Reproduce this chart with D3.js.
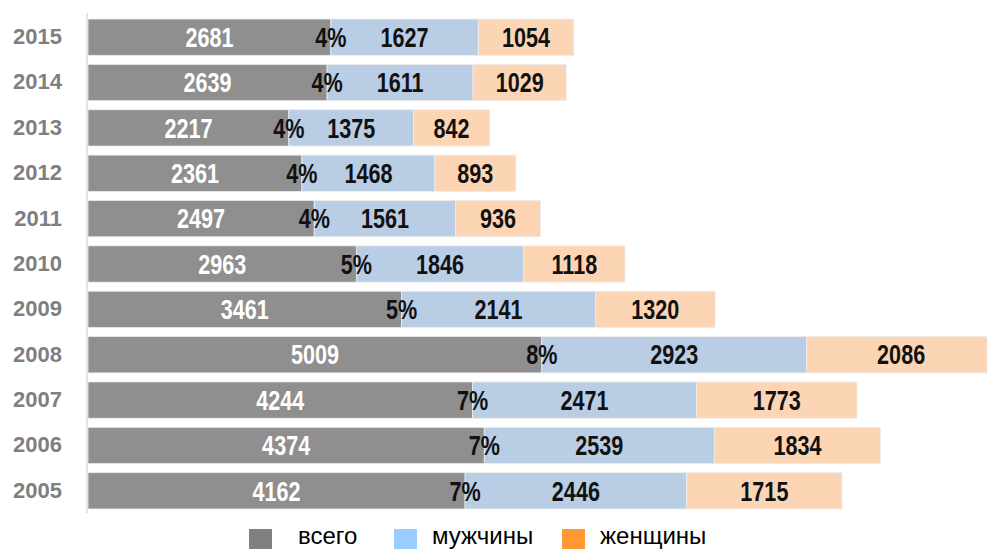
<!DOCTYPE html>
<html>
<head>
<meta charset="utf-8">
<script src="https://cdn.jsdelivr.net/npm/d3@7"></script>
<style>
  html, body { margin: 0; padding: 0; background: #fff; overflow: hidden; }
  svg { display: block; }
  .val { font-family: "Liberation Sans", Arial, sans-serif; font-weight: bold; font-size: 27px; }
  .year { font-family: "Liberation Sans", Arial, sans-serif; font-weight: bold; font-size: 22px; fill: #7f7f7f; }
  .legend { font-family: "Liberation Sans", Arial, sans-serif; font-size: 24px; fill: #000; }
</style>
</head>
<body>
<div id="chart"></div>
<script>
// data, top row first
const years = ['2015', '2014', '2013', '2012', '2011', '2010', '2009', '2008', '2007', '2006', '2005'];
const total = [2681, 2639, 2217, 2361, 2497, 2963, 3461, 5009, 4244, 4374, 4162];
const men = [1627, 1611, 1375, 1468, 1561, 1846, 2141, 2923, 2471, 2539, 2446];
const women = [1054, 1029, 842, 893, 936, 1118, 1320, 2086, 1773, 1834, 1715];
const share = [4, 4, 4, 4, 4, 5, 5, 8, 7, 7, 7];
const seriesNames = ['всего', 'мужчины', 'женщины'];

const width = 987, height = 549;
const barColors = ['#8f8f8f', '#b9cde5', '#fcd5b5'];
const legendColors = ['#808080', '#99ccff', '#ff9933'];

const svg = d3.select('#chart').append('svg')
    .attr('width', width)
    .attr('height', height);

const x = d3.scaleLinear().domain([0, 10000]).range([88, 994]);
const y = d3.scaleBand().domain(years).range([14.5, 513.5])
    .paddingInner(0.2).paddingOuter(0.1);

const rows = years.map((yr, i) => ({
    year: yr,
    segs: [
        { s: 0, x0: 0, x1: total[i], v: total[i] },
        { s: 1, x0: total[i], x1: total[i] + men[i], v: men[i] },
        { s: 2, x0: total[i] + men[i], x1: total[i] + men[i] + women[i], v: women[i] }
    ],
    pct: share[i],
    totalEnd: total[i]
}));

// axis line
svg.append('line')
    .attr('x1', 87).attr('x2', 87)
    .attr('y1', 13).attr('y2', 513)
    .style('stroke', '#d9d9d9')
    .style('stroke-width', 1.5);

const row = svg.selectAll('g.row')
    .data(rows)
    .enter()
    .append('g')
    .attr('class', 'row');

row.selectAll('rect')
    .data(d => d.segs.map(s => Object.assign({ year: d.year }, s)))
    .enter()
    .append('rect')
    .attr('x', d => x(d.x0))
    .attr('y', d => y(d.year))
    .attr('width', d => x(d.x1) - x(d.x0))
    .attr('height', y.bandwidth())
    .style('fill', d => barColors[d.s])
    .style('stroke', '#ededed')
    .style('stroke-width', 0.8);

// condensed look: squeeze the labels horizontally
const squeeze = (cx, cy) => `translate(${cx},${cy}) scale(0.8,1)`;

row.selectAll('text.val')
    .data(d => d.segs.map(s => Object.assign({ year: d.year }, s)))
    .enter()
    .append('text')
    .attr('class', 'val')
    .attr('transform', d => squeeze((x(d.x0) + x(d.x1)) / 2, y(d.year) + y.bandwidth() / 2))
    .attr('dy', '0.36em')
    .attr('text-anchor', 'middle')
    .style('fill', d => d.s === 0 ? '#fff' : '#111')
    .text(d => d.v);

row.append('text')
    .attr('class', 'val')
    .attr('transform', d => squeeze(x(d.totalEnd), y(d.year) + y.bandwidth() / 2))
    .attr('dy', '0.36em')
    .attr('text-anchor', 'middle')
    .style('fill', '#111')
    .text(d => d.pct + '%');

// year labels
svg.selectAll('text.year')
    .data(years)
    .enter()
    .append('text')
    .attr('class', 'year')
    .attr('x', 62)
    .attr('y', d => y(d) + y.bandwidth() / 2 - 1)
    .attr('dy', '0.36em')
    .attr('text-anchor', 'end')
    .text(d => d);

// legend
const legendX = [249, 394, 562];
const legend = svg.selectAll('g.leg')
    .data(seriesNames)
    .enter()
    .append('g')
    .attr('class', 'leg')
    .attr('transform', (d, i) => `translate(${legendX[i]},529)`);

legend.append('rect')
    .attr('width', 23)
    .attr('height', 23)
    .style('fill', (d, i) => legendColors[i]);

legend.append('text')
    .attr('class', 'legend')
    .attr('x', (d, i) => i === 0 ? 49 : 38)
    .attr('y', 15)
    .text(d => d);
</script>
</body>
</html>
